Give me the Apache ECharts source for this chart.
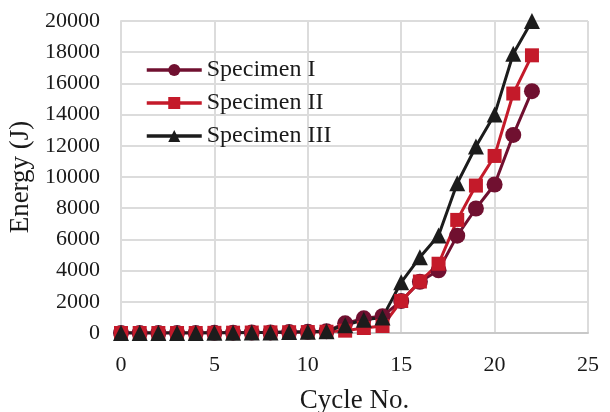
<!DOCTYPE html>
<html>
<head>
<meta charset="utf-8">
<script src="https://cdn.jsdelivr.net/npm/echarts@6/dist/echarts.min.js"></script>
<style>
  html, body { margin: 0; padding: 0; background: #fff; }
  #main { width: 610px; height: 412px; }
</style>
</head>
<body>
<div id="main"></div>
<script>
var cycles = [0, 1, 2, 3, 4, 5, 6, 7, 8, 9, 10, 11, 12, 13, 14, 15, 16, 17, 18, 19, 20, 21, 22];
var specimen1 = [0, 0, 0, 0, 0, 10, 20, 30, 40, 60, 80, 120, 620, 940, 1080, 2050, 3280, 4020, 6240, 7980, 9520, 12700, 15500];
var specimen2 = [0, 0, 0, 0, 0, 10, 20, 30, 40, 50, 60, 80, 150, 320, 450, 2050, 3300, 4440, 7250, 9450, 11350, 15350, 17800];
var specimen3 = [0, 0, 0, 0, 0, 10, 20, 30, 40, 60, 80, 110, 500, 850, 1000, 3250, 4850, 6250, 9600, 11950, 14000, 17900, 20000];
var names = ['Specimen I', 'Specimen II', 'Specimen III'];
var colors = ['#701030', '#c41a2a', '#1c1c1c'];
var symbols = ['circle', 'rect', 'triangle'];

function pairs(vals) {
    return cycles.map(function (c, i) { return [c, vals[i]]; });
}

var chartDom = document.getElementById('main');
var myChart = echarts.init(chartDom);
var font = 'Liberation Serif';
var allData = [specimen1, specimen2, specimen3];

var option = {
    animation: false,
    textStyle: { fontFamily: font },
    grid: { left: 121, right: 22, top: 21, bottom: 79, outerBoundsMode: 'none', containLabel: false },
    legend: {
        orient: 'vertical',
        left: 140,
        top: 53,
        itemWidth: 55,
        itemHeight: 15,
        itemGap: 9,
        lineStyle: { width: 3.5 },
        textStyle: { fontFamily: font, fontSize: 24, color: '#1a1a1a' },
        data: names
    },
    xAxis: {
        type: 'value',
        min: 0,
        max: 25,
        interval: 5,
        name: 'Cycle No.',
        nameLocation: 'middle',
        nameGap: 54,
        nameTextStyle: { fontFamily: font, fontSize: 27, color: '#1a1a1a' },
        axisLine: { show: true, lineStyle: { color: '#c8c8c8', width: 2 } },
        axisTick: { show: false },
        axisLabel: { fontFamily: font, fontSize: 22, color: '#1a1a1a', margin: 21 },
        splitLine: { show: true, lineStyle: { color: '#dcdcdc', width: 2 } }
    },
    yAxis: {
        type: 'value',
        min: 0,
        max: 20000,
        interval: 2000,
        name: 'Energy (J)',
        nameLocation: 'middle',
        nameGap: 80,
        nameTextStyle: { fontFamily: font, fontSize: 27, color: '#1a1a1a' },
        axisLine: { show: true, lineStyle: { color: '#dcdcdc', width: 2 } },
        axisTick: { show: false },
        axisLabel: {
            fontFamily: font, fontSize: 22, color: '#1a1a1a', margin: 21,
            formatter: function (v) { return String(v); }
        },
        splitLine: { show: true, lineStyle: { color: '#dcdcdc', width: 2 } }
    },
    series: names.map(function (n, i) {
        return {
            name: n,
            type: 'line',
            data: pairs(allData[i]),
            symbol: symbols[i],
            symbolSize: i === 1 ? 14 : 16,
            showAllSymbol: true,
            lineStyle: { color: colors[i], width: 3 },
            itemStyle: { color: colors[i] }
        };
    })
};
myChart.setOption(option);
</script>
</body>
</html>
